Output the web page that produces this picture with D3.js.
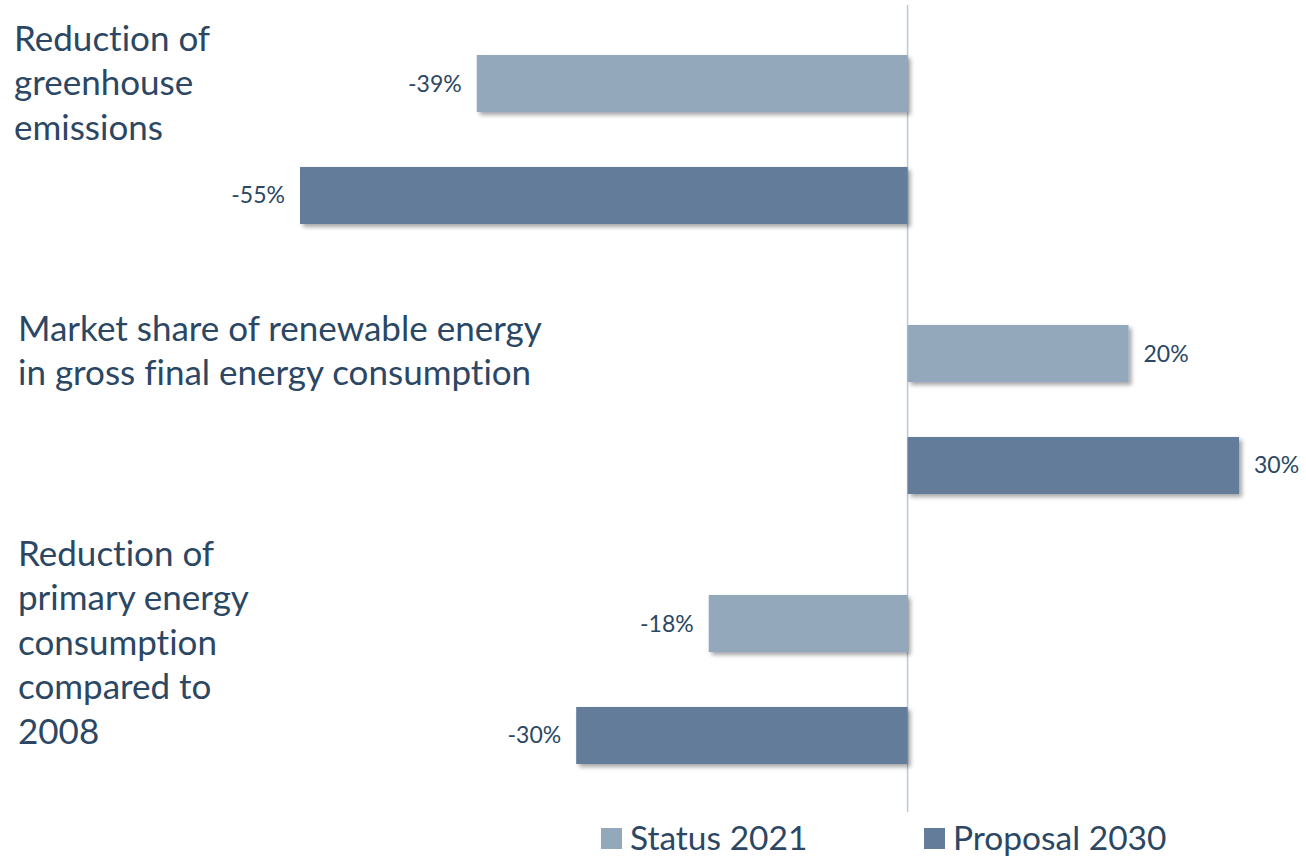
<!DOCTYPE html>
<html>
<head>
<meta charset="utf-8">
<script src="https://cdn.jsdelivr.net/npm/d3@7"></script>
<style>
  body { margin: 0; background: #fff; }
  svg text { font-family: Lato, "Open Sans", sans-serif; font-variant-ligatures: none; }
</style>
</head>
<body>
<svg id="chart"></svg>
<script>
const categories = [
  'Reduction of greenhouse emissions',
  'Market share of renewable energy in gross final energy consumption',
  'Reduction of primary energy consumption compared to 2008'
];
const categoryLines = [
  ['Reduction of', 'greenhouse', 'emissions'],
  ['Market share of renewable energy', 'in gross final energy consumption'],
  ['Reduction of', 'primary energy', 'consumption', 'compared to', '2008']
];
const series = ['Status 2021', 'Proposal 2030'];
const status2021 = [-39, 20, -18];
const proposal2030 = [-55, 30, -30];

const width = 1306;
const height = 856;
const colors = ['#94a8bc', '#627c99'];
const textColor = '#2b4763';

const svg = d3.select('#chart').attr('width', width).attr('height', height);

const defs = svg.append('defs');
defs.append('filter')
  .attr('id', 'shadow')
  .attr('x', '-5%').attr('y', '-20%')
  .attr('width', '115%').attr('height', '160%')
  .append('feDropShadow')
  .attr('dx', 3).attr('dy', 3)
  .attr('stdDeviation', 2)
  .attr('flood-color', '#000')
  .attr('flood-opacity', 0.35);

const x = d3.scaleLinear().domain([-55, 30]).range([300, 1239]);
const y0 = d3.scaleBand().domain(categories).range([4.5, 814.5]);
const y1 = d3.scaleBand().domain(series).range([0, y0.bandwidth()])
  .paddingInner(0.491).paddingOuter(0.451);

const rows = categories.map((c, i) => ({
  category: c,
  values: [status2021[i], proposal2030[i]]
}));

// category labels (separate text boxes in the original)
const labelFirstBaseline = [46, 66, 21];
const labelX = [14, 18, 18];
svg.selectAll('.cat-label')
  .data(categories)
  .enter()
  .append('text')
  .attr('class', 'cat-label')
  .attr('fill', textColor)
  .style('font-size', '35px')
  .each(function(d, i) {
    d3.select(this).selectAll('tspan')
      .data(categoryLines[i])
      .enter()
      .append('tspan')
      .attr('x', labelX[i])
      .attr('y', (t, j) => y0(d) + labelFirstBaseline[i] + j * 44.5)
      .text(t => t);
  });

// zero line
svg.append('line')
  .attr('x1', x(0)).attr('x2', x(0))
  .attr('y1', 5).attr('y2', 812)
  .attr('stroke', '#b9c9d8')
  .attr('stroke-width', 1.5);

const groups = svg.selectAll('.group')
  .data(rows)
  .enter()
  .append('g')
  .attr('class', 'group')
  .attr('transform', d => `translate(0,${y0(d.category)})`);

groups.selectAll('rect')
  .data(d => d.values.map((v, k) => ({ series: series[k], value: v, k })))
  .enter()
  .append('rect')
  .attr('x', d => x(Math.min(0, d.value)))
  .attr('y', d => y1(d.series))
  .attr('width', d => Math.abs(x(d.value) - x(0)))
  .attr('height', y1.bandwidth())
  .attr('fill', d => colors[d.k])
  .attr('filter', 'url(#shadow)');

groups.selectAll('.val')
  .data(d => d.values.map((v, k) => ({ series: series[k], value: v, k })))
  .enter()
  .append('text')
  .attr('class', 'val')
  .attr('x', d => d.value < 0 ? x(d.value) - 15 : x(d.value) + 15)
  .attr('y', d => y1(d.series) + y1.bandwidth() / 2 + 8)
  .attr('text-anchor', d => d.value < 0 ? 'end' : 'start')
  .attr('fill', textColor)
  .style('font-size', '23px')
  .text(d => d.value + '%');

// legend
const legendX = [601, 924];
const legend = svg.selectAll('.legend')
  .data(series)
  .enter()
  .append('g')
  .attr('class', 'legend')
  .attr('transform', (d, i) => `translate(${legendX[i]},828)`);
legend.append('rect')
  .attr('width', 21).attr('height', 21)
  .attr('fill', (d, i) => colors[i]);
legend.append('text')
  .attr('x', 29).attr('y', 22)
  .attr('fill', textColor)
  .style('font-size', '33.5px')
  .text(d => d);
</script>
</body>
</html>
